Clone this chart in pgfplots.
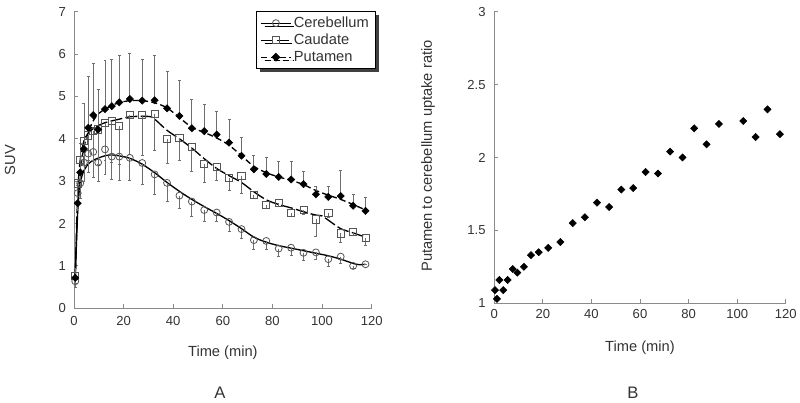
\documentclass[border=0pt]{standalone}
\usepackage{pgfplots}
\pgfplotsset{compat=1.18}
\usepackage{pgfplotstable}
\usepackage{fontspec}
\setmainfont{Liberation Sans}
\usetikzlibrary{shadows}

\pgfplotstableread{
t v lo
0.5 0.64 0.50
1.5 2.72 2.30
2.5 2.95 2.60
4 3.44 3.00
5.75 3.65 3.20
7.75 3.69 3.10
9.75 3.44 3.00
12.5 3.75 3.15
15.25 3.58 3.05
18.25 3.58 3.03
22.5 3.55 3.03
27.5 3.43 2.93
32.5 3.16 2.69
37.5 2.96 2.52
42.5 2.66 2.35
47.5 2.52 2.18
52.5 2.32 2.06
57.5 2.26 2.04
62.5 2.04 1.81
67.5 1.87 1.65
72.5 1.61 1.39
77.5 1.59 1.38
82.5 1.41 1.23
87.5 1.43 1.26
92.5 1.31 1.12
97.5 1.32 1.16
102.5 1.16 0.98
107.5 1.22 1.06
112.5 1.00 0.94
117.5 1.04 1.04
}\cerebtab

\pgfplotstableread{
t v lo
0.5 0.77 0.60
1.5 2.95 2.50
2.5 3.50 3.00
4 3.95 3.40
5.75 4.08 3.50
7.75 4.18 3.50
9.75 4.22 3.40
12.5 4.38 3.50
15.25 4.42 3.45
18.25 4.30 3.40
22.5 4.57 3.64
27.5 4.56 3.62
32.5 4.58 3.73
37.5 3.99 3.43
42.5 4.02 3.48
47.5 3.81 3.22
52.5 3.40 2.97
57.5 3.33 3.02
62.5 3.08 2.79
67.5 3.13 2.71
72.5 2.67 2.59
77.5 2.44 2.36
82.5 2.49 2.40
87.5 2.25 2.16
92.5 2.32 2.22
97.5 2.10 1.69
102.5 2.25 2.15
107.5 1.77 1.56
112.5 1.81 1.73
117.5 1.67 1.49
}\caudtab

\pgfplotstableread{
t v hi
0.5 0.72 0.95
1.5 2.48 2.90
2.5 3.21 3.90
4 3.76 4.83
5.75 4.26 5.48
7.75 4.56 5.78
9.75 4.22 5.16
12.5 4.70 5.86
15.25 4.77 5.88
18.25 4.86 5.96
22.5 4.94 6.01
27.5 4.90 5.87
32.5 4.91 5.96
37.5 4.72 5.58
42.5 4.54 5.38
47.5 4.25 4.94
52.5 4.18 4.81
57.5 4.10 4.65
62.5 3.91 4.45
67.5 3.60 4.04
72.5 3.28 3.62
77.5 3.17 3.56
82.5 3.10 3.46
87.5 3.04 3.46
92.5 2.93 3.22
97.5 2.69 2.88
102.5 2.63 2.88
107.5 2.65 3.26
112.5 2.42 2.69
117.5 2.30 2.61
}\putamtab

\pgfplotstableread{
t r
0.3 1.09
1.1 1.03
2.1 1.16
3.7 1.09
5.5 1.16
7.6 1.235
9.5 1.21
12.2 1.25
15.1 1.33
18.3 1.35
22.2 1.38
27.2 1.42
32.3 1.55
37.3 1.59
42.3 1.69
47.3 1.66
52.3 1.78
57.2 1.79
62.3 1.90
67.4 1.89
72.4 2.04
77.5 2.00
82.3 2.20
87.4 2.09
92.5 2.23
102.5 2.25
107.6 2.14
112.5 2.33
117.6 2.16
}\ratiotab

\definecolor{axgray}{HTML}{8A8A8A}
\definecolor{txt}{HTML}{333333}
\definecolor{mk}{HTML}{555555}
\definecolor{eb}{HTML}{6E6E6E}

\pgfplotsset{
  common/.style={
    scale only axis,
    axis lines*=left,
    tick align=inside,
    major tick length=3pt,
    axis line style={axgray, line width=0.7pt},
    tick style={axgray, line width=0.7pt},
    xmin=0, xmax=120,
    xtick={0,20,40,60,80,100,120},
    /pgf/number format/assume math mode=true,
    ticklabel style={font=\fontsize{9.8}{11}\selectfont, text=txt},
    label style={font=\fontsize{11}{13}\selectfont, text=txt},
    clip=false,
  },
}

\begin{document}
\begin{tikzpicture}
\useasboundingbox (0,0) rectangle (600pt,302.25pt);

% ---------------- Panel A ----------------
\begin{axis}[common,
  at={(55.5pt,71pt)}, anchor=south west,
  width=223.3pt, height=222.5pt,
  ymin=0, ymax=7, ytick={0,1,2,3,4,5,6,7},
  yticklabel style={xshift=-2.5pt},
  xticklabel style={yshift=-2.5pt},
  xlabel={Time (min)},
  xlabel style={at={(axis description cs:0.5,-0.1506)}, anchor=center},
  ylabel={SUV},
  ylabel style={at={(axis description cs:-0.215,0.5)}, anchor=center},
  legend style={at={(axis description cs:1.014,1.002)}, anchor=north east,
    draw=black, line width=0.6pt, fill=white,
    font=\fontsize{11}{12}\selectfont, text=txt,
    drop shadow={shadow xshift=2.5pt, shadow yshift=-2.5pt, fill=black!75, opacity=1},
    inner xsep=3pt, inner ysep=2pt, row sep=-0.6pt},
  legend cell align=left,
  legend image code/.code={\draw[mark repeat=2,mark phase=2,#1] plot coordinates {(0pt,0pt) (11pt,0pt) (22pt,0pt)};},
]
% fitted curves
\addplot[black, line width=1pt, smooth, forget plot] coordinates {
(0.5,0.68) (1.5,2.3) (2.5,2.95) (4,3.25) (6,3.42) (8,3.5) (10,3.55) (12.5,3.6) (15,3.62) (18,3.6) (22.5,3.54) (27.5,3.4) (32.5,3.2) (37.5,2.97) (42.5,2.76) (47.5,2.57) (52.5,2.4) (57.5,2.24) (62.5,2.07) (67.5,1.88) (72.5,1.68) (77.5,1.56) (82.5,1.48) (87.5,1.42) (92.5,1.36) (97.5,1.3) (102.5,1.24) (107.5,1.16) (112.5,1.06) (115,1.03) (117.5,1.04)};
\addplot[black, line width=1pt, smooth, dash pattern=on 9pt off 2.5pt, forget plot] coordinates {
(0.5,0.8) (1.5,2.7) (2.5,3.5) (4,3.95) (6,4.15) (8,4.25) (10,4.32) (12.5,4.38) (15,4.42) (18,4.46) (22.5,4.52) (27.5,4.53) (31,4.52) (33,4.44) (37.5,4.2) (42.5,4.0) (47.5,3.78) (52.5,3.53) (57.5,3.3) (62.5,3.13) (67.5,2.97) (72.5,2.75) (77.5,2.56) (82.5,2.45) (87.5,2.37) (92.5,2.28) (97.5,2.2) (100,2.18) (102.5,2.08) (107.5,1.88) (112.5,1.78) (117.5,1.68)};
\addplot[black, line width=1pt, smooth, dash pattern=on 4.5pt off 2.5pt, forget plot] coordinates {
(0.5,0.72) (1.5,2.45) (2.5,3.2) (4,3.8) (6,4.2) (8,4.45) (10,4.6) (12.5,4.7) (15,4.78) (18,4.85) (22.5,4.9) (27.5,4.9) (32.5,4.85) (37.5,4.73) (42.5,4.5) (47.5,4.27) (52.5,4.15) (57.5,4.02) (62.5,3.85) (67.5,3.6) (72.5,3.35) (77.5,3.2) (82.5,3.1) (87.5,3.02) (92.5,2.92) (97.5,2.78) (102.5,2.67) (107.5,2.57) (112.5,2.45) (117.5,2.32)};
% data with error bars
\addplot[only marks, mark=o, mark size=2.6pt, mark options={mk, line width=0.6pt}, forget plot,
  error bars/.cd, y dir=minus, y explicit,
  error bar style={eb, line width=0.6pt},
  error mark options={rotate=90, mark size=1.1pt, eb, line width=0.6pt}]
  table[x=t, y=v, y error expr=\thisrow{v}-\thisrow{lo}] {\cerebtab};
\addplot[only marks, mark=square, mark size=2.7pt, mark options={mk, line width=0.6pt}, forget plot,
  error bars/.cd, y dir=minus, y explicit,
  error bar style={eb, line width=0.6pt},
  error mark options={rotate=90, mark size=1.1pt, eb, line width=0.6pt}]
  table[x=t, y=v, y error expr=\thisrow{v}-\thisrow{lo}] {\caudtab};
\addplot[only marks, mark=square*, mark size=1.9pt, mark options={black, rotate=45}, forget plot,
  error bars/.cd, y dir=plus, y explicit,
  error bar style={eb, line width=0.6pt},
  error mark options={rotate=90, mark size=1.1pt, eb, line width=0.6pt}]
  table[x=t, y=v, y error expr=\thisrow{hi}-\thisrow{v}] {\putamtab};
% legend
\addlegendimage{black, line width=0.9pt, mark=o, mark size=2.6pt, mark options={mk, line width=0.6pt}}
\addlegendentry{Cerebellum}
\addlegendimage{black, line width=0.9pt, dash pattern=on 9pt off 2.5pt, mark=square, mark size=2.7pt, mark options={mk, solid, line width=0.6pt}}
\addlegendentry{Caudate}
\addlegendimage{black, line width=0.9pt, dash pattern=on 4.5pt off 2.5pt, mark=square*, mark size=1.9pt, mark options={black, solid, rotate=45}}
\addlegendentry{Putamen}
\node[font=\fontsize{12.5}{14}\selectfont, text=txt] at (axis description cs:0.49,-0.285) {A};
\end{axis}

% ---------------- Panel B ----------------
\begin{axis}[common,
  at={(370.7pt,74.8pt)}, anchor=south west,
  width=218.6pt, height=218.7pt,
  ymin=1, ymax=3, ytick={1,1.5,2,2.5,3},
  yticklabel style={xshift=-3pt},
  xticklabel style={yshift=-0.8pt},
  xlabel={Time (min)},
  xlabel style={at={(axis description cs:0.5,-0.153)}, anchor=center},
  ylabel={Putamen to cerebellum uptake ratio},
  ylabel style={at={(axis description cs:-0.227,0.505)}, anchor=center},
]
\addplot[only marks, mark=square*, mark size=1.9pt, mark options={black, rotate=45}]
  table[x=t, y=r] {\ratiotab};
\node[font=\fontsize{12.5}{14}\selectfont, text=txt] at (axis description cs:0.476,-0.308) {B};
\end{axis}
\end{tikzpicture}
\end{document}
